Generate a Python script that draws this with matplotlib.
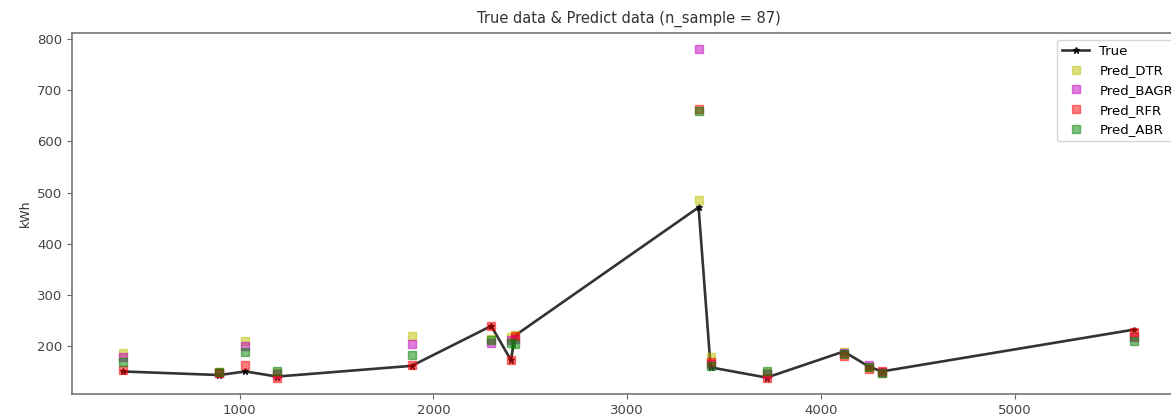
import matplotlib
matplotlib.use("Agg")
import matplotlib.pyplot as plt

# x positions and values
x_true = [396, 895, 1030, 1193, 1888, 2298, 2400, 2420, 3368, 3430, 3719, 4117, 4249, 4313, 5617]
y_true = [150, 143, 150, 140, 161, 239, 172, 220, 471, 158, 138, 189, 159, 150, 232]

pred_dtr  = [186, 148, 210, 146, 220, 214, 218, 221, 486, 178, 146, 188, 158, 147, 220]
pred_bagr = [179, 147, 200, 145, 204, 205, 212, 214, 780, 165, 145, 186, 163, 148, 218]
pred_rfr  = [153, 146, 162, 138, 163, 238, 172, 220, 664, 168, 138, 181, 155, 150, 227]
pred_abr  = [168, 148, 189, 150, 183, 212, 205, 203, 659, 160, 150, 185, 158, 147, 210]

fig = plt.figure(figsize=(11.71, 4.15), dpi=100)
ax = fig.add_axes([0.0615, 0.0506, 0.9505, 0.87])

ax.plot(x_true, y_true, color='black', marker='*', markersize=5, linewidth=1.9, alpha=0.8, label='True')
ax.plot(x_true, pred_dtr, 's', color='y', markersize=6, alpha=0.5, label='Pred_DTR')
ax.plot(x_true, pred_bagr, 's', color='m', markersize=6, alpha=0.5, label='Pred_BAGR')
ax.plot(x_true, pred_rfr, 's', color='r', markersize=6, alpha=0.5, label='Pred_RFR')
ax.plot(x_true, pred_abr, 's', color='g', markersize=6, alpha=0.5, label='Pred_ABR')

ax.set_title('True data & Predict data (n_sample = 87)', fontsize=10.5, color='#333333', pad=7)
ax.set_ylabel('kWh', fontsize=9, color='#333333')
ax.tick_params(labelsize=9.5, labelcolor='#444444', color='#666666')
for s in ax.spines.values():
    s.set_color('#777777')
    s.set_linewidth(1.2)
ax.legend(loc='upper right', fontsize=9.5)

fig.savefig('out.png', dpi=100)
